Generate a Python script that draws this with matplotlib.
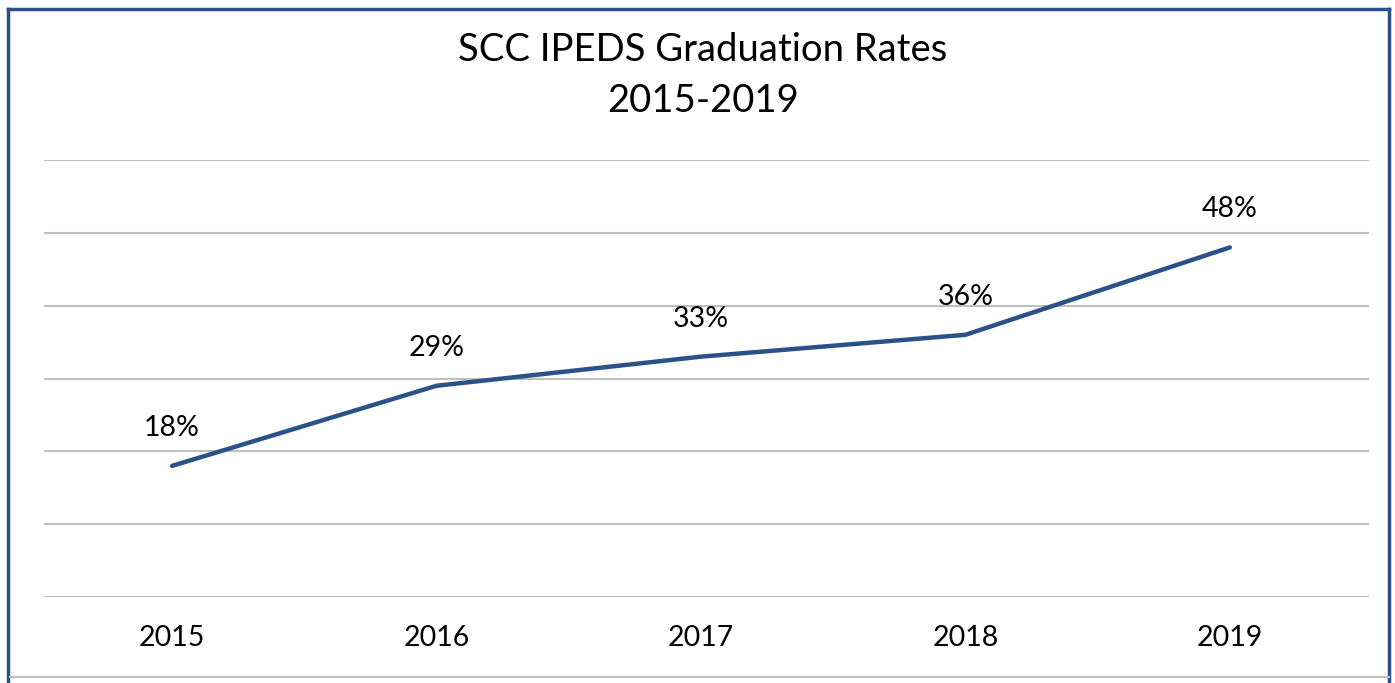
import matplotlib.pyplot as plt
from matplotlib.lines import Line2D

years = ['2015', '2016', '2017', '2018', '2019']
rates = [18, 29, 33, 36, 48]
labels = ['18%', '29%', '33%', '36%', '48%']

plt.rcParams['font.family'] = ['Lato', 'DejaVu Sans']

fig = plt.figure(figsize=(13.95, 6.83), dpi=100)
ax = fig.add_axes([44 / 1395, 1 - 597 / 683, (1369 - 44) / 1395, (597 - 160) / 683])

x = list(range(len(years)))
ax.plot(x, rates, color='#2a5289', lw=3.2, solid_capstyle='round')

for xi, v, lab in zip(x, rates, labels):
    ax.annotate(lab, (xi, v), xytext=(0, 18), textcoords='offset points',
                ha='center', va='bottom', fontsize=20.5, color='black')

ax.set_xlim(-0.484, 4.526)
ax.set_ylim(0, 60)
ax.set_yticks(range(0, 61, 10))
ax.yaxis.grid(True, color='#bfbfbf', lw=1.5)
ax.set_axisbelow(True)
ax.tick_params(axis='y', left=False, labelleft=False)
ax.set_xticks(x)
ax.set_xticklabels(years, fontsize=20.5)
ax.tick_params(axis='x', length=0, pad=20)
for s in ax.spines.values():
    s.set_visible(False)

fig.text(703 / 1395, 1 - 50 / 683, 'SCC IPEDS Graduation Rates', ha='center', va='center', fontsize=27.5)
fig.text(703 / 1395, 1 - 101 / 683, '2015-2019', ha='center', va='center', fontsize=27.5)

# frame around the chart
blue = '#2a5289'
fig.add_artist(Line2D([8 / 1395, 8 / 1395], [0, 1 - 9 / 683], transform=fig.transFigure, color=blue, lw=2.5))
fig.add_artist(Line2D([8 / 1395, 1389 / 1395], [1 - 9 / 683, 1 - 9 / 683], transform=fig.transFigure, color=blue, lw=2.5))
fig.add_artist(Line2D([1389 / 1395, 1389 / 1395], [0, 1 - 9 / 683], transform=fig.transFigure, color=blue, lw=2.5))
fig.add_artist(Line2D([10 / 1395, 1389 / 1395], [1 - 677 / 683, 1 - 677 / 683], transform=fig.transFigure, color='#bfbfbf', lw=1.5))

fig.savefig('out.png', dpi=100)
